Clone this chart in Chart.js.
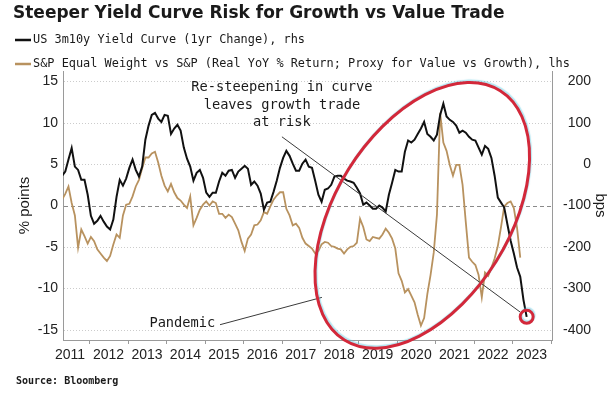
<!DOCTYPE html>
<html>
<head>
<meta charset="utf-8">
<script src="https://cdn.jsdelivr.net/npm/chart.js@4.4.0/dist/chart.umd.min.js"></script>
<style>
  html, body { margin: 0; padding: 0; background: #fff; }
  #wrap { width: 616px; height: 395px; position: relative; }
</style>
</head>
<body>
<div id="wrap"><canvas id="chart"></canvas></div>
<script>
// Monthly observations, first one is April 2011
const startYear = 2011;
const startMonth = 4;

const yearLabels = ['2011', '2012', '2013', '2014', '2015', '2016', '2017',
  '2018', '2019', '2020', '2021', '2022', '2023'];
const leftTicks = [-15, -10, -5, 0, 5, 10, 15];
const rightTicks = [-400, -300, -200, -100, 0, 100, 200];

// US 3m10y yield curve, 1yr change (bps, rhs)
const yieldCurve = [
  -28, -18, 11, 39, -6, -14, -38, -38, -74, -125,
  -144, -137, -125, -139, -151, -158, -134, -79, -38, -52,
  -35, -9, 11, -14, -30, -6, 59, 93, 119, 124,
  110, 102, 119, 117, 73, 86, 95, 81, 40, 13,
  -6, -40, -21, -14, -33, -69, -79, -69, -69, -42,
  -21, -28, -16, -14, -33, -18, -11, -4, -11, -50,
  -42, -52, -71, -110, -93, -91, -67, -40, -9, 15,
  32, 20, 1, -16, -16, 1, 11, -6, -9, -40,
  -74, -91, -62, -59, -50, -30, -28, -28, -35, -40,
  -42, -45, -57, -71, -98, -93, -100, -108, -108, -100,
  -105, -115, -74, -45, -14, -18, -18, 30, 57, 52,
  59, 73, 86, 102, 73, 66, 57, 71, 119, 146,
  115, 107, 102, 93, 76, 81, 76, 66, 59, 57,
  40, 23, 44, 37, 15, -28, -81, -93, -105, -146,
  -185, -216, -250, -272, -328, -369
];

// S&P equal weight vs S&P, real YoY % return (lhs)
const equalWeight = [
  0.7, 1.4, 2.3, 0.3, -1.2, -5.1, -2.9, -3.7, -4.6, -3.8,
  -4.3, -5.3, -5.8, -6.3, -6.7, -6.1, -4.7, -3.5, -3.9, -1.2,
  0.1, 0.2, 1.1, 2.3, 3.1, 4.5, 5.8, 5.8, 6.3, 6.5,
  5.2, 3.6, 2.4, 1.7, 2.6, 1.6, 0.9, 0.6, 0.1, -0.3,
  1.1, -2.4, -1.5, -0.5, 0.1, 0.5, 0.0, 0.5, 0.3, -1.0,
  -1.0, -1.5, -1.1, -1.4, -2.2, -3.0, -4.4, -5.5, -4.0, -3.5,
  -2.4, -2.3, -1.8, -0.8, -1.0, -0.1, 0.7, 1.2, 1.6, 1.6,
  -0.4, -1.2, -2.4, -2.2, -2.7, -3.9, -4.6, -4.9, -5.2, -5.8,
  -5.5, -4.7, -4.4, -4.5, -4.9, -5.0, -5.2, -5.3, -5.8, -5.3,
  -5.0, -4.9, -4.5, -1.6, -2.6, -4.1, -4.3, -3.8, -3.9, -4.0,
  -3.5, -2.8, -3.3, -4.0, -5.2, -8.2, -9.1, -10.5, -10.1, -10.9,
  -11.7, -13.2, -14.5, -13.6, -10.7, -8.4, -5.7, -1.1, 11.2, 7.6,
  6.6, 4.9, 3.6, 4.9, 4.9, 2.5, -2.0, -6.3, -6.8, -7.2,
  -8.4, -11.1, -8.1, -8.5, -7.5, -6.4, -4.9, -2.6, -0.1, 0.3,
  0.5, -0.3, -2.7, -6.3
];

const BLACK = '#111111';
const GOLD = '#b8925f';
const RED = '#d3283a';
const MONO = '"DejaVu Sans Mono", monospace';
const SANS = '"Liberation Sans", Arial, sans-serif';

function toPoints(values) {
  return values.map((v, i) => ({ x: startYear + (startMonth - 1 + i + 0.5) / 12, y: v }));
}

// Annotation anchors in data units (x = year, y = lhs)
const notes = {
  steepText: { x: 2017.01, y: [14.3, 12.1, 10.0], lines: ['Re-steepening in curve', 'leaves growth trade', 'at risk'] },
  steepFrom: { x: 2017.01, y: 8.3 },
  pandemicText: { x: 2014.42, y: -14.2, text: 'Pandemic' },
  pandemicFrom: { x: 2015.40, y: -14.4 },
  pandemicTo: { x: 2018.05, y: -11.1 },
  ellipse: { x: 2020.66, y: -1.2 }
};

const decor = {
  id: 'decor',
  beforeDatasetsDraw(chart) {
    const { ctx, chartArea: a, scales } = chart;
    ctx.save();
    leftTicks.forEach(v => {
      const y = Math.round(scales.y.getPixelForValue(v)) + 0.5;
      ctx.beginPath();
      if (v === 0) {
        ctx.strokeStyle = '#8a8a8a';
        ctx.setLineDash([4, 3]);
      } else {
        ctx.strokeStyle = '#cccccc';
        ctx.setLineDash([1, 2]);
      }
      ctx.lineWidth = 1;
      ctx.moveTo(a.left + 1, y);
      ctx.lineTo(a.right - 1, y);
      ctx.stroke();
    });
    ctx.restore();
  },
  afterDraw(chart) {
    const { ctx, chartArea: a, scales } = chart;
    const px = t => scales.x.getPixelForValue(t);
    const py = v => scales.y.getPixelForValue(v);
    ctx.save();

    // year tick marks
    ctx.strokeStyle = '#9a9a9a';
    ctx.lineWidth = 1;
    for (let yr = 2012; yr <= 2024; yr++) {
      const x = Math.round(px(yr)) + 0.5;
      if (x < a.left || x > a.right + 1) continue;
      ctx.beginPath();
      ctx.moveTo(x, a.bottom);
      ctx.lineTo(x, a.bottom + 4);
      ctx.stroke();
    }

    // title
    ctx.fillStyle = '#1a1a1a';
    ctx.textBaseline = 'middle';
    ctx.textAlign = 'left';
    ctx.font = 'bold 17px "DejaVu Sans", sans-serif';
    ctx.fillText('Steeper Yield Curve Risk for Growth vs Value Trade', 13, 14);

    // legend
    const legend = [
      { color: BLACK, text: 'US 3m10y Yield Curve (1yr Change), rhs', y: 40 },
      { color: GOLD, text: 'S&P Equal Weight vs S&P (Real YoY % Return; Proxy for Value vs Growth), lhs', y: 64 }
    ];
    ctx.font = '11.9px ' + MONO;
    legend.forEach(item => {
      ctx.strokeStyle = item.color;
      ctx.lineWidth = 2.5;
      ctx.beginPath();
      ctx.moveTo(15, item.y);
      ctx.lineTo(31, item.y);
      ctx.stroke();
      ctx.fillStyle = '#1a1a1a';
      ctx.fillText(item.text, 33, item.y);
    });

    // source
    ctx.font = 'bold 10px ' + MONO;
    ctx.fillText('Source: Bloomberg', 16, 381);

    // axis titles
    ctx.font = '15px ' + SANS;
    ctx.textAlign = 'center';
    const midY = (a.top + a.bottom) / 2;
    ctx.save();
    ctx.translate(25, midY);
    ctx.rotate(-Math.PI / 2);
    ctx.fillText('% points', 0, 0);
    ctx.restore();
    ctx.save();
    ctx.translate(600, midY);
    ctx.rotate(Math.PI / 2);
    ctx.fillText('bps', 0, 0);
    ctx.restore();

    // annotation text
    ctx.fillStyle = '#1a1a1a';
    ctx.font = '13.7px ' + MONO;
    notes.steepText.lines.forEach((line, i) => {
      ctx.fillText(line, px(notes.steepText.x), py(notes.steepText.y[i]));
    });
    ctx.fillText(notes.pandemicText.text, px(notes.pandemicText.x), py(notes.pandemicText.y));

    // last point of the yield curve, circled
    const lastIdx = yieldCurve.length - 1;
    const endX = scales.x.getPixelForValue(startYear + (startMonth - 1 + lastIdx + 0.5) / 12);
    const endY = scales.y2.getPixelForValue(yieldCurve[lastIdx]);

    // pointer lines
    ctx.strokeStyle = '#3a3a3a';
    ctx.lineWidth = 1;
    const sx = px(notes.steepFrom.x), sy = py(notes.steepFrom.y);
    const d = Math.hypot(sx - endX, sy - endY);
    ctx.beginPath();
    ctx.moveTo(sx, sy);
    ctx.lineTo(endX + (sx - endX) / d * 8, endY + (sy - endY) / d * 8);
    ctx.stroke();
    ctx.beginPath();
    ctx.moveTo(px(notes.pandemicFrom.x), py(notes.pandemicFrom.y));
    ctx.lineTo(px(notes.pandemicTo.x), py(notes.pandemicTo.y));
    ctx.stroke();

    // red ellipse with faint cyan fringe
    ctx.lineWidth = 3;
    ctx.strokeStyle = RED;
    ctx.shadowColor = 'rgba(90, 200, 225, 0.45)';
    ctx.shadowOffsetX = 1;
    ctx.shadowOffsetY = -1.5;
    ctx.shadowBlur = 1;
    ctx.beginPath();
    ctx.ellipse(px(notes.ellipse.x), py(notes.ellipse.y), 147, 87, -58 * Math.PI / 180, 0, Math.PI * 2);
    ctx.stroke();
    ctx.beginPath();
    ctx.arc(endX, endY, 6.5, 0, Math.PI * 2);
    ctx.stroke();

    ctx.restore();
  }
};

new Chart(document.getElementById('chart'), {
  type: 'line',
  data: {
    datasets: [
      {
        label: 'US 3m10y Yield Curve (1yr Change), rhs',
        data: toPoints(yieldCurve),
        yAxisID: 'y2',
        borderColor: BLACK,
        borderWidth: 2,
        pointRadius: 0,
        tension: 0
      },
      {
        label: 'S&P Equal Weight vs S&P (Real YoY % Return; Proxy for Value vs Growth), lhs',
        data: toPoints(equalWeight),
        yAxisID: 'y',
        borderColor: GOLD,
        borderWidth: 1.8,
        pointRadius: 0,
        tension: 0
      }
    ]
  },
  options: {
    responsive: true,
    maintainAspectRatio: false,
    animation: false,
    layout: { padding: { top: 71, bottom: 25, left: 0, right: 25 } },
    plugins: {
      legend: { display: false },
      tooltip: { enabled: false }
    },
    scales: {
      x: {
        type: 'linear',
        min: 2011.316,
        max: 2024.034,
        grid: { display: false, drawTicks: false },
        border: { display: true, color: '#9a9a9a' },
        afterBuildTicks: s => { s.ticks = yearLabels.map(y => ({ value: Number(y) + 0.5 })); },
        afterFit: s => { s.height = 30; },
        ticks: {
          autoSkip: false,
          maxRotation: 0,
          padding: 7,
          color: '#222',
          font: { family: SANS, size: 14 },
          callback: (v, i) => yearLabels[i]
        }
      },
      y: {
        position: 'left',
        min: -16.25,
        max: 16.25,
        grid: { display: false, drawTicks: false },
        border: { display: true, color: '#9a9a9a' },
        afterBuildTicks: s => { s.ticks = leftTicks.map(v => ({ value: v })); },
        afterFit: s => { s.width = 63; },
        ticks: { padding: 5, color: '#222', font: { family: SANS, size: 14 } }
      },
      y2: {
        position: 'right',
        min: -425,
        max: 225,
        grid: { display: false, drawTicks: false },
        border: { display: true, color: '#9a9a9a' },
        afterBuildTicks: s => { s.ticks = rightTicks.map(v => ({ value: v })); },
        afterFit: s => { s.width = 39; },
        ticks: { padding: 4, crossAlign: 'far', color: '#222', font: { family: SANS, size: 14 } }
      }
    }
  },
  plugins: [decor]
});
</script>
</body>
</html>
